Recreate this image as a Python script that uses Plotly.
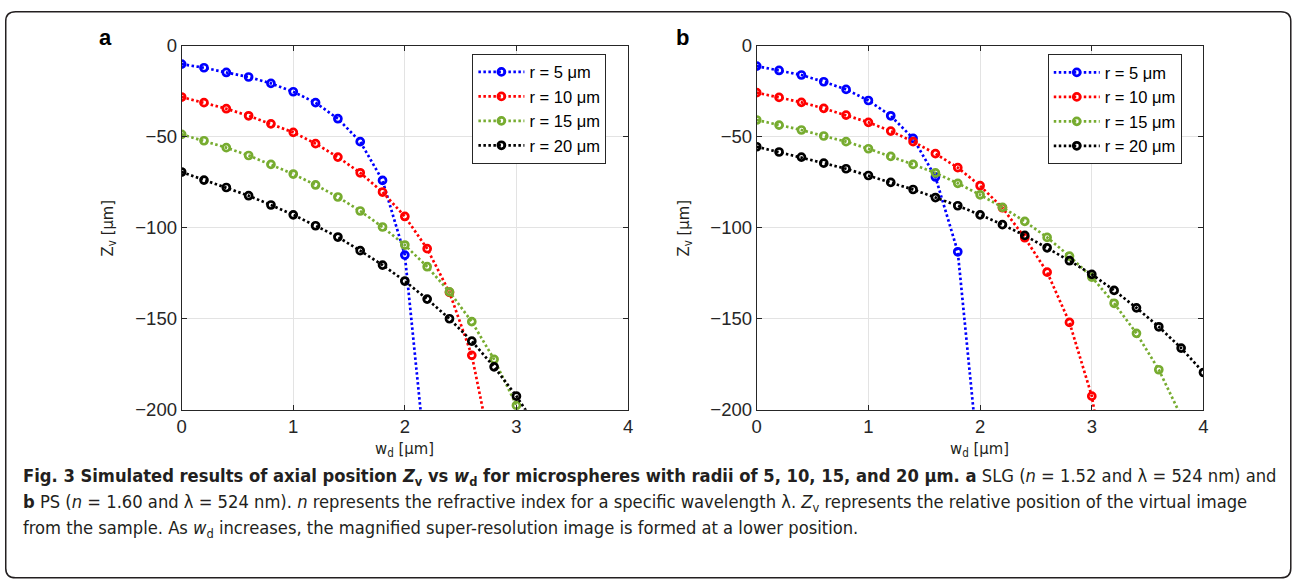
import plotly.graph_objects as go

# ---------------- data ----------------
labels = ["r = 5 μm", "r = 10 μm", "r = 15 μm", "r = 20 μm"]
colors = ["#0000FF", "#FF0000", "#77AC30", "#000000"]

# Panel a (SLG)
wd_a_5 = [0, 0.2, 0.4, 0.6, 0.8, 1.0, 1.2, 1.4, 1.6, 1.8, 2.0, 2.2]
zv_a_5 = [-10.1, -12.1, -14.7, -17.2, -20.7, -25.3, -31.3, -40.1, -52.7, -74.0, -115.0, -236.0]
wd_a_10 = [0, 0.2, 0.4, 0.6, 0.8, 1.0, 1.2, 1.4, 1.6, 1.8, 2.0, 2.2, 2.4, 2.6, 2.8]
zv_a_10 = [-28.2, -31.3, -34.6, -38.5, -42.9, -47.6, -53.8, -61.2, -69.8, -80.4, -93.8, -111.5, -135.5, -170.1, -230.0]
wd_a_15 = [0, 0.2, 0.4, 0.6, 0.8, 1.0, 1.2, 1.4, 1.6, 1.8, 2.0, 2.2, 2.4, 2.6, 2.8, 3.0, 3.2]
zv_a_15 = [-48.7, -52.2, -56.0, -60.3, -65.2, -70.5, -76.5, -83.1, -90.8, -99.6, -109.5, -121.4, -135.2, -151.6, -172.3, -197.6, -226.0]
wd_a_20 = [0, 0.2, 0.4, 0.6, 0.8, 1.0, 1.2, 1.4, 1.6, 1.8, 2.0, 2.2, 2.4, 2.6, 2.8, 3.0, 3.2]
zv_a_20 = [-69.4, -73.8, -77.9, -82.4, -87.5, -92.9, -98.9, -105.1, -112.6, -120.5, -129.3, -139.2, -150.0, -162.3, -176.4, -192.5, -211.0]

# Panel b (PS)
wd_b_5 = [0, 0.2, 0.4, 0.6, 0.8, 1.0, 1.2, 1.4, 1.6, 1.8, 2.0]
zv_b_5 = [-11.2, -13.6, -16.1, -19.8, -24.0, -30.1, -38.5, -50.9, -72.1, -113.2, -237.0]
wd_b_10 = [0, 0.2, 0.4, 0.6, 0.8, 1.0, 1.2, 1.4, 1.6, 1.8, 2.0, 2.2, 2.4, 2.6, 2.8, 3.0, 3.2]
zv_b_10 = [-25.8, -28.4, -31.1, -34.4, -38.1, -42.1, -46.9, -52.7, -59.3, -67.0, -76.9, -89.0, -105.5, -124.4, -152.0, -192.5, -262.0]
wd_b_15 = [0, 0.2, 0.4, 0.6, 0.8, 1.0, 1.2, 1.4, 1.6, 1.8, 2.0, 2.2, 2.4, 2.6, 2.8, 3.0, 3.2, 3.4, 3.6, 3.8]
zv_b_15 = [-40.8, -43.6, -46.3, -49.6, -52.7, -56.6, -60.8, -65.2, -69.9, -75.6, -81.9, -88.8, -96.5, -105.3, -115.6, -127.1, -141.5, -158.0, -178.0, -203.5]
wd_b_20 = [0, 0.2, 0.4, 0.6, 0.8, 1.0, 1.2, 1.4, 1.6, 1.8, 2.0, 2.2, 2.4, 2.6, 2.8, 3.0, 3.2, 3.4, 3.6, 3.8, 4.0]
zv_b_20 = [-55.5, -58.4, -61.2, -64.5, -67.6, -71.3, -75.1, -79.0, -83.4, -87.9, -92.9, -98.3, -104.2, -111.0, -118.1, -125.6, -134.4, -144.0, -154.4, -166.1, -179.5]

panel_a = [(wd_a_5, zv_a_5), (wd_a_10, zv_a_10), (wd_a_15, zv_a_15), (wd_a_20, zv_a_20)]
panel_b = [(wd_b_5, zv_b_5), (wd_b_10, zv_b_10), (wd_b_15, zv_b_15), (wd_b_20, zv_b_20)]

x_ticks = [0, 1, 2, 3, 4]
y_ticks = [0, -50, -100, -150, -200]

caption_lines = [
    "<b>Fig. 3 Simulated results of axial position <i>Z</i><sub>v</sub> vs <i>w</i><sub>d</sub> for microspheres with radii of 5, 10, 15, and 20 μm. a</b> SLG (<i>n</i> = 1.52 and λ = 524 nm) and",
    "<b>b</b> PS (<i>n</i> = 1.60 and λ = 524 nm). <i>n</i> represents the refractive index for a specific wavelength λ. <i>Z</i><sub>v</sub> represents the relative position of the virtual image",
    "from the sample. As <i>w</i><sub>d</sub> increases, the magnified super-resolution image is formed at a lower position.",
]

# ---------------- layout helpers ----------------
# measured mapping between figure pixels and the captured picture
SX, OX = 0.9922, 4.35
SY, OY = 0.9643, 9.3
W, H = 1300, 592

def fx(R):          # target picture x -> figure px
    return (R - OX) / SX

def fy(R):
    return (R - OY) / SY

def px_x(R):
    return fx(R) / W

def px_y(R):
    return 1 - fy(R) / H

fig = go.Figure()

for (xs, ys), name, col in zip(panel_a, labels, colors):
    fig.add_trace(go.Scatter(
        x=xs, y=ys, name=name, mode="lines+markers",
        line=dict(color=col, width=2.7, dash="2.5px,2.5px"),
        marker=dict(symbol="circle-open", size=7, color=col, line=dict(width=2.7, color=col)),
        xaxis="x", yaxis="y", legend="legend"))

for (xs, ys), name, col in zip(panel_b, labels, colors):
    fig.add_trace(go.Scatter(
        x=xs, y=ys, name=name, mode="lines+markers",
        line=dict(color=col, width=2.7, dash="2.5px,2.5px"),
        marker=dict(symbol="circle-open", size=7, color=col, line=dict(width=2.7, color=col)),
        xaxis="x2", yaxis="y2", legend="legend2"))

ydom = [px_y(408), px_y(44)]
axis_common = dict(
    showgrid=True, gridcolor="#e3e3e3", gridwidth=1,
    showline=True, linecolor="#262626", linewidth=1, mirror="ticks",
    ticks="inside", ticklen=5, tickcolor="#262626",
    zeroline=False, tickfont=dict(family="Liberation Sans, Arial, sans-serif", size=18.5, color="#262626"),
)

leg_font = dict(family="Liberation Sans, Arial, sans-serif", size=16.5, color="#000")
fig.update_layout(
    width=W, height=H,
    margin=dict(l=0, r=0, t=0, b=0),
    paper_bgcolor="white", plot_bgcolor="white",
    xaxis=dict(domain=[px_x(181), px_x(627.3)], range=[0, 4], tickvals=x_ticks, anchor="y", **axis_common),
    yaxis=dict(domain=ydom, range=[-200, 0], tickvals=y_ticks, anchor="x", **axis_common),
    xaxis2=dict(domain=[px_x(756), px_x(1202.7)], range=[0, 4], tickvals=x_ticks, anchor="y2", **axis_common),
    yaxis2=dict(domain=ydom, range=[-200, 0], tickvals=y_ticks, anchor="x2", **axis_common),
    legend=dict(x=px_x(471.7), y=px_y(52), xanchor="left", yanchor="top",
                bgcolor="white", bordercolor="#262626", borderwidth=1,
                font=leg_font, itemwidth=46, tracegroupgap=0),
    legend2=dict(x=px_x(1047), y=px_y(52.5), xanchor="left", yanchor="top",
                 bgcolor="white", bordercolor="#262626", borderwidth=1,
                 font=leg_font, itemwidth=46, tracegroupgap=0),
    showlegend=True,
)

ann = []
title_font = dict(family="Liberation Sans Narrow, DejaVu Sans Condensed, Liberation Sans, sans-serif", size=16.5, color="#231f20")
for cx in (404, 979):
    ann.append(dict(x=px_x(cx), y=px_y(448), xref="paper", yref="paper", text="w<sub>d</sub> [μm]",
                    showarrow=False, font=title_font, xanchor="center", yanchor="middle"))
for cx in (108, 684):
    ann.append(dict(x=px_x(cx), y=px_y(226), xref="paper", yref="paper", text="Z<sub>v</sub> [μm]",
                    showarrow=False, font=title_font, textangle=-90, xanchor="center", yanchor="middle"))
for cx, lab in ((105, "a"), (682, "b")):
    ann.append(dict(x=px_x(cx), y=px_y(36), xref="paper", yref="paper", text=f"<b>{lab}</b>",
                    showarrow=False, font=dict(family="Liberation Sans, Arial, sans-serif", size=22, color="#000"),
                    xanchor="center", yanchor="middle"))
cap_font = dict(family="Liberation Sans Narrow, DejaVu Sans Condensed, Liberation Sans, sans-serif", size=18.2, color="#231f20")
for i, line in enumerate(caption_lines):
    ann.append(dict(x=px_x(20), y=px_y(475 + 26 * i), xref="paper", yref="paper", text=line,
                    showarrow=False, font=cap_font, xanchor="left", yanchor="middle", align="left"))
fig.update_layout(annotations=ann)

# rounded outer frame
fx0, fx1 = 0.75, fx(1290)
fy0, fy1 = 0.75, fy(576)
rx, ry = 10, 10
def P(x, y):
    return f"{x / W},{1 - y / H}"
path = (f"M {P(fx0 + rx, fy0)} L {P(fx1 - rx, fy0)} Q {P(fx1, fy0)} {P(fx1, fy0 + ry)} "
        f"L {P(fx1, fy1 - ry)} Q {P(fx1, fy1)} {P(fx1 - rx, fy1)} "
        f"L {P(fx0 + rx, fy1)} Q {P(fx0, fy1)} {P(fx0, fy1 - ry)} "
        f"L {P(fx0, fy0 + ry)} Q {P(fx0, fy0)} {P(fx0 + rx, fy0)} Z")
fig.add_shape(type="path", path=path, xref="paper", yref="paper",
              line=dict(color="#231f20", width=1.5), layer="above")

fig.write_html("out.html")
